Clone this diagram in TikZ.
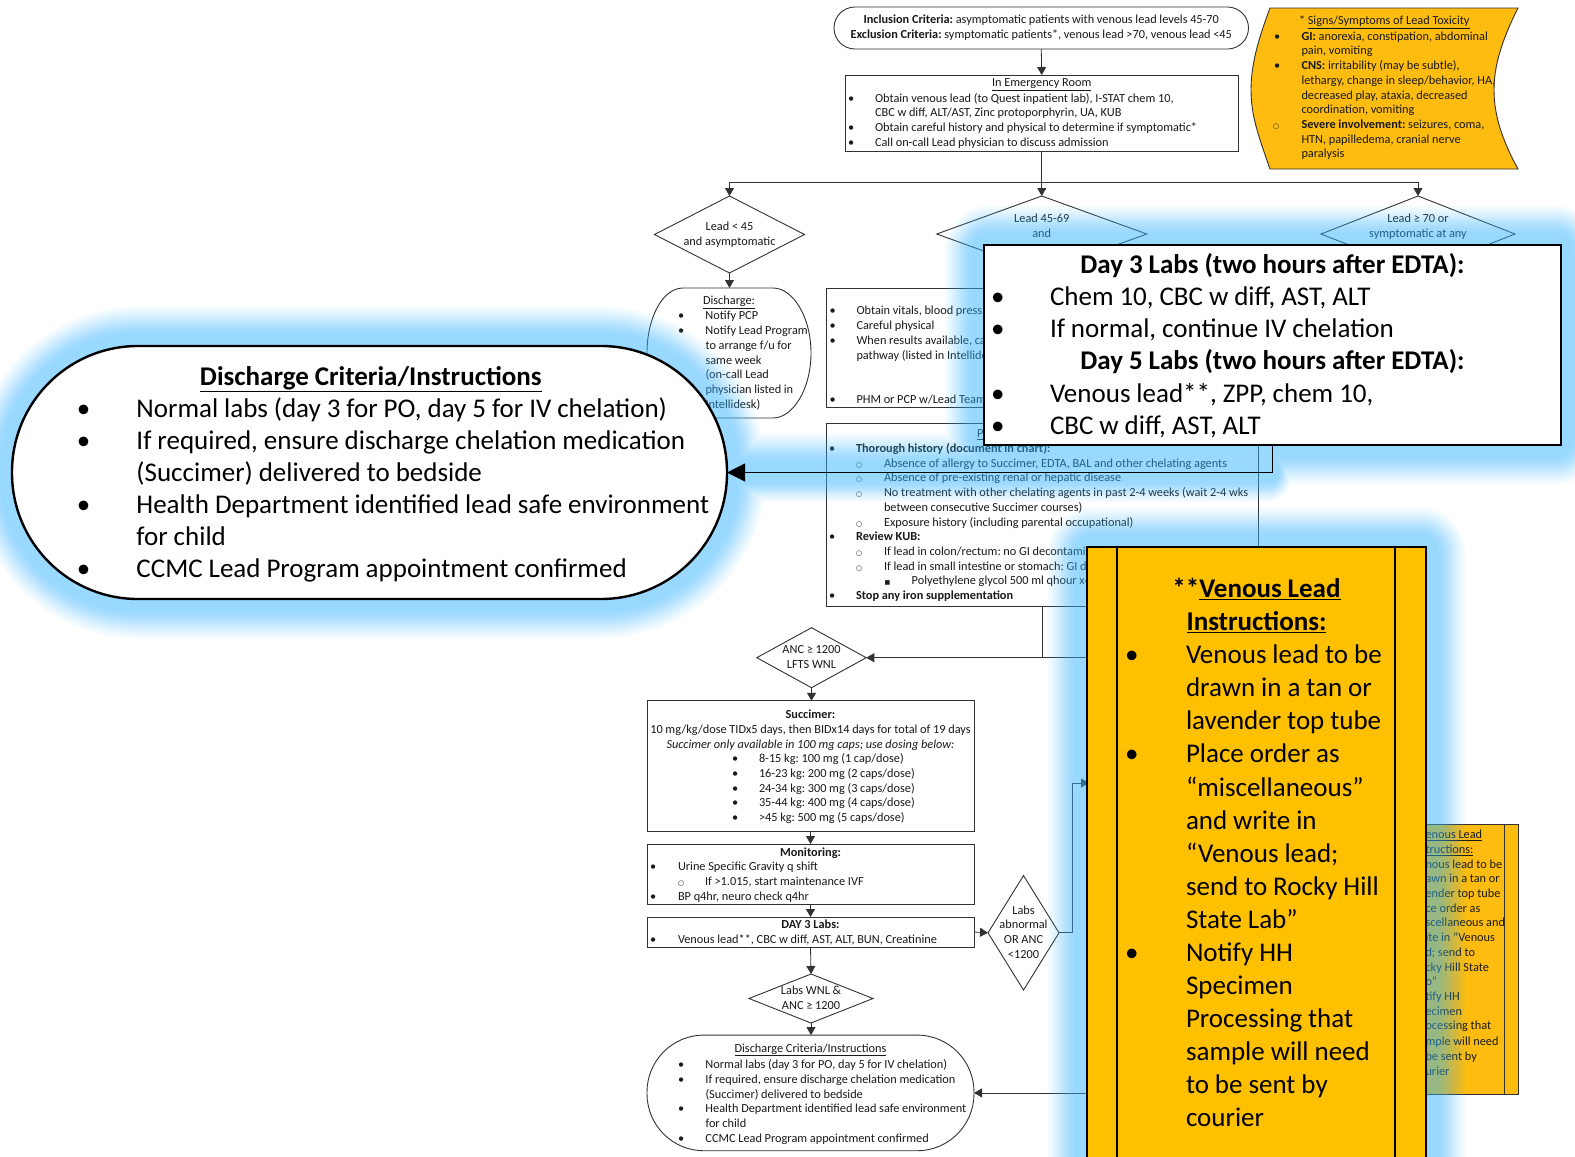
\documentclass[tikz,border=0pt]{standalone}
\usepackage{fontspec}
\setmainfont{Carlito}
\newfontfamily\dvfont{DejaVu Sans}
\usetikzlibrary{arrows.meta,shapes.geometric,calc}
\definecolor{orng}{RGB}{255,192,0}
\definecolor{orngb}{RGB}{253,188,15}
\definecolor{glowc}{rgb}{.22,.72,1}
\definecolor{linec}{RGB}{50,50,50}
\newdimen\stshift
\newcommand\ws{\spaceskip=.22em\xspaceskip=.22em\relax}
\newcommand\mstrut{\rule[\dimexpr -.3\baselineskip+\stshift\relax]{0pt}{\baselineskip}}
\newcommand\rowb[3]{\mstrut\makebox[0pt][l]{\hspace*{#1pt}\textbullet}\hspace*{#2pt}\mbox{\ws #3}}
\newcommand\rowc[3]{\mstrut\makebox[0pt][l]{\hspace*{#1pt}{\dvfont\fontsize{7}{7}\selectfont ○}}\hspace*{#2pt}\mbox{\ws #3}}
\newcommand\rowq[3]{\mstrut\makebox[0pt][l]{\hspace*{#1pt}{\dvfont\fontsize{6}{6}\selectfont ■}}\hspace*{#2pt}\mbox{\ws #3}}
\newcommand\rowp[2]{\mstrut\hspace*{#1pt}\mbox{\ws #2}}
\newcommand\rowm[1]{\mstrut\makebox[\hsize][c]{\ws #1}}
\newcommand\dtxt[1]{\makebox[0pt]{\raisebox{-7pt}{\smash{\ws\begin{tabular}[c]{@{}c@{}}#1\end{tabular}}}}}
\tikzset{
  smallfont/.style={font=\fontsize{12.3}{14.7}\selectfont,execute at begin node={\stshift=1.3pt\relax}},
  upshift/.style={execute at begin node={\stshift=.3pt\relax}},
  flowbox/.style={draw=linec,line width=.9pt,fill=white,inner sep=0pt,outer sep=0pt,align=left,smallfont,text=black!90},
  flowdia/.style={shape=diamond,draw=linec,line width=.9pt,fill=white,inner sep=0pt,outer sep=0pt,smallfont,text=black!90},
  flow/.style={draw=linec,line width=.8pt,-{Triangle[length=8pt,width=9pt]}},
  flowplain/.style={draw=linec,line width=.8pt},
  bigbox/.style={draw=black,line width=2.4pt,fill=white,inner sep=0pt,outer sep=0pt,align=left,font=\fontsize{27}{32.1}\selectfont,execute at begin node={\stshift=2.5pt\relax}},
  bigflow/.style={draw=black,line width=.9pt,-{Triangle[length=18pt,width=18pt]}},
  glowlayer/.style={fill=glowc,fill opacity=.056}
}
\begin{document}
\begin{tikzpicture}[x=1pt,y=-1pt]
\clip (0,0) rectangle (1575,1157);
\fill[white] (0,0) rectangle (1575,1157);

% ---- base diagram ----
\node[flowbox,upshift,rounded corners=21pt,text width=414.5pt,minimum height=42pt] (incl) at (1041.25,28)
 {\rowm{\textbf{Inclusion Criteria:} asymptomatic patients with venous lead levels 45-70}\\
  \rowm{\textbf{Exclusion Criteria:} symptomatic patients*, venous lead >70, venous lead <45}};
\node[flowbox,upshift,text width=392.5pt,minimum height=76pt] (er) at (1041.75,113)
 {\rowm{\underline{In Emergency Room}}\\
  \rowb{2.5}{29.5}{Obtain venous lead (to Quest inpatient lab), I-STAT chem 10,}\\
  \rowp{29.5}{CBC w diff, ALT/AST, Zinc protoporphyrin, UA, KUB}\\
  \rowb{2.5}{29.5}{Obtain careful history and physical to determine if symptomatic*}\\
  \rowb{2.5}{29.5}{Call on-call Lead physician to discuss admission}};

% signs wave shape
\draw[draw=linec,line width=.9pt,fill=orngb] (1270,8) -- (1518,8) .. controls (1502,40) and (1494,65) .. (1494,90)
  .. controls (1494,115) and (1502,140) .. (1518,169) -- (1270,169)
  .. controls (1258,135) and (1251,115) .. (1251,90) .. controls (1251,65) and (1258,40) .. (1270,8) -- cycle;
\node[inner sep=0pt,align=left,smallfont,upshift,text width=235pt,text=black!90] (signs) at (1387.5,88)
 {\rowp{29}{* \underline{Signs/Symptoms of Lead Toxicity}}\\
  \rowb{4}{31.5}{\textbf{GI:} anorexia, constipation, abdominal}\\
  \rowp{31.5}{pain, vomiting}\\
  \rowb{4}{31.5}{\textbf{CNS:} irritability (may be subtle),}\\
  \rowp{31.5}{lethargy, change in sleep/behavior, HA,}\\
  \rowp{31.5}{decreased play, ataxia, decreased}\\
  \rowp{31.5}{coordination, vomiting}\\
  \rowc{3}{31.5}{\textbf{Severe involvement:} seizures, coma,}\\
  \rowp{31.5}{HTN, papilledema, cranial nerve}\\
  \rowp{31.5}{paralysis}};

\node[flowdia,minimum width=150pt,minimum height=77pt] (dleft) at (729.5,234.5) {\dtxt{Lead < 45\\and asymptomatic}};
\node[flowdia,minimum width=210pt,minimum height=76pt] (dmid) at (1041.75,234) {\dtxt{Lead 45-69\\and\\~}};
\node[flowdia,minimum width=194pt,minimum height=76pt] (dright) at (1418,234) {\dtxt{Lead ≥ 70 or\\symptomatic at any\\~}};

\coordinate (branch) at (1041.75,182);
\draw[flow] (incl.south) -- (er.north);
\draw[flow] (er.south) -- (dmid.north);
\draw[flow] (branch) -| (dleft.north);
\draw[flow] (branch) -| (dright.north);

% small discharge shape
\draw[draw=linec,line width=.9pt,fill=white] (683,288) -- (773,288) .. controls (793,288) and (811,317) .. (811,353)
  .. controls (811,389) and (793,418) .. (773,418) -- (683,418) .. controls (663,418) and (647,389) .. (647,353)
  .. controls (647,317) and (663,288) .. (683,288) -- cycle;
\node[inner sep=0pt,align=left,smallfont,upshift,text width=164pt,text=black!90] (dsmall) at (729,353)
 {\rowm{\underline{Discharge:}}\\
  \rowb{31}{58.5}{Notify PCP}\\
  \rowb{31}{58.5}{Notify Lead Program}\\
  \rowp{58.5}{to arrange f/u for}\\
  \rowp{58.5}{same week}\\
  \rowp{58.5}{(on-call Lead}\\
  \rowp{58.5}{physician listed in}\\
  \rowp{58.5}{Intellidesk)}};
\draw[flow] (dleft.south) -- (729.5,288);

\node[flowbox,text width=431.5pt,minimum height=119pt] (vitals) at (1042.25,347.5)
 {\mstrut\\
  \rowb{3}{30}{Obtain vitals, blood press}\\
  \rowb{3}{30}{Careful physical}\\
  \rowb{3}{30}{When results available, ca}\\
  \rowp{30}{pathway (listed in Intellide}\\
  \mstrut\\
  \mstrut\\
  \rowb{3}{30}{PHM or PCP w/Lead Team}};

\node[flowbox,text width=432pt,minimum height=183pt] (hist) at (1042,514.5)
 {\rowp{151}{\underline{P}}\\
  \rowb{3}{30}{\textbf{Thorough history (document in chart):}}\\
  \rowc{30}{58}{Absence of allergy to Succimer, EDTA, BAL and other chelating agents}\\
  \rowc{30}{58}{Absence of pre-existing renal or hepatic disease}\\
  \rowc{30}{58}{No treatment with other chelating agents in past 2-4 weeks (wait 2-4 wks}\\
  \rowp{58}{between consecutive Succimer courses)}\\
  \rowc{30}{58}{Exposure history (including parental occupational)}\\
  \rowb{3}{30}{\textbf{Review KUB:}}\\
  \rowc{30}{58}{If lead in colon/rectum: no GI decontamin}\\
  \rowc{30}{58}{If lead in small intestine or stomach: GI d}\\
  \rowq{58.5}{85.7}{Polyethylene glycol 500 ml qhour x4}\\
  \rowb{3}{30}{\textbf{Stop any iron supplementation}}};

\node[flowdia,minimum width=109.5pt,minimum height=60pt] (anc) at (811.5,657.7) {\dtxt{ANC ≥ 1200\\LFTS WNL}};
\coordinate (ancfar) at (1100,657.7);
\draw[flowplain] (hist.south -| 1042,0) -- (1042,657.7);
\draw[flow] (ancfar) -- (anc.east);

\node[flowbox,text width=327pt,minimum height=130.5pt] (succ) at (810.5,766)
 {\rowm{\textbf{Succimer:}}\\
  \rowm{10 mg/kg/dose TIDx5 days, then BIDx14 days for total of 19 days}\\
  \rowm{\textit{Succimer only available in 100 mg caps; use dosing below:}}\\
  \rowb{85}{112}{8-15 kg: 100 mg (1 cap/dose)}\\
  \rowb{85}{112}{16-23 kg: 200 mg (2 caps/dose)}\\
  \rowb{85}{112}{24-34 kg: 300 mg (3 caps/dose)}\\
  \rowb{85}{112}{35-44 kg: 400 mg (4 caps/dose)}\\
  \rowb{85}{112}{>45 kg: 500 mg (5 caps/dose)}};
\node[flowbox,text width=327pt,minimum height=60pt] (moni) at (810.5,874)
 {\rowm{\textbf{Monitoring:}}\\
  \rowb{3}{31}{Urine Specific Gravity q shift}\\
  \rowc{31}{58}{If >1.015, start maintenance IVF}\\
  \rowb{3}{31}{BP q4hr, neuro check q4hr}};
\node[flowbox,text width=327pt,minimum height=30pt] (day3s) at (810.5,932)
 {\rowm{\textbf{DAY 3 Labs:}}\\
  \rowb{3}{31}{Venous lead**, CBC w diff, AST, ALT, BUN, Creatinine}};
\node[flowdia,minimum width=71pt,minimum height=114.5pt] (labs) at (1023.5,932.8) {\dtxt{Labs\\abnormal\\OR ANC\\<1200}};
\node[flowdia,minimum width=124pt,minimum height=49pt] (wnl) at (811,998.5) {\dtxt{Labs WNL \&\\ANC ≥ 1200}};
\node[flowbox,rounded corners=57pt,text width=327pt,minimum height=115.7pt] (dlarge) at (810.5,1092.9)
 {\rowm{\underline{Discharge Criteria/Instructions}}\\
  \rowb{31}{58.5}{Normal labs (day 3 for PO, day 5 for IV chelation)}\\
  \rowb{31}{58.5}{If required, ensure discharge chelation medication}\\
  \rowp{58.5}{(Succimer) delivered to bedside}\\
  \rowb{31}{58.5}{Health Department identified lead safe environment}\\
  \rowp{58.5}{for child}\\
  \rowb{31}{58.5}{CCMC Lead Program appointment confirmed}};
\draw[flow] (anc.south) -- (succ.north -| anc.south);
\draw[flow] (succ.south) -- (moni.north);
\draw[flow] (moni.south) -- (day3s.north);
\draw[flow] (day3s.south) -- (wnl.north);
\draw[flow] (wnl.south) -- (dlarge.north -| wnl.south);
\draw[flow] (day3s.east) -- (labs.west);
\coordinate (labsup) at (1089,783);
\draw[flow] (labs.east) -- (1072,932.8) |- (labsup);
\coordinate (dlfar) at (1100,1092.9);
\draw[flow] (dlfar) -- (dlarge.east);

% small venous box (mostly hidden)
\node[flowbox,fill=orngb,execute at begin node={\stshift=2.3pt\relax},text width=118pt,minimum height=270pt] (vsmall) at (1459,959)
 {\rowp{25.5}{\underline{enous Lead}}\\
  \rowp{25.5}{\underline{tructions:}}\\
  \rowp{25.5}{nous lead to be}\\
  \rowp{25.5}{awn in a tan or}\\
  \rowp{25.5}{ender top tube}\\
  \rowp{25.5}{ce order as}\\
  \rowp{25.5}{scellaneous and}\\
  \rowp{25.5}{ite in "Venous}\\
  \rowp{25.5}{d; send to}\\
  \rowp{25.5}{cky Hill State}\\
  \rowp{25.5}{o"}\\
  \rowp{25.5}{tify HH}\\
  \rowp{25.5}{ecimen}\\
  \rowp{25.5}{ocessing that}\\
  \rowp{25.5}{mple will need}\\
  \rowp{25.5}{be sent by}\\
  \rowp{25.5}{urier}\\
  \mstrut};
\draw[flowplain] (1504,0 |- vsmall.north) -- (1504,0 |- vsmall.south);

% ---- glow ----
\foreach \w in {39,36,33,30.5,28,26,24,22,20,18,16,13}{
  \pgfmathsetmacro{\ra}{126+\w}
  \pgfmathsetmacro{\rb}{\w+6}
  \pgfmathsetmacro{\rc}{.7*\w}
  \fill[glowlayer]
   [rounded corners=\ra pt] ({12-\w},{346-\w}) rectangle ({727+\w},{599+\w})
   [rounded corners=\rb pt] ({984-\w},{245-\w}) rectangle ({1561+\w},{445+\w})
   [rounded corners=\rb pt] ({1087-\w},{547-\w}) rectangle ({1426+\w},{1220+\w})
   [rounded corners=\rc pt] ({727-\w},{472.5-\w}) rectangle ({1272.5+.5*\w},{472.5+.75*\w});
}

% ---- enlarged call-outs ----
\node[bigbox,rounded corners=126pt,text width=715pt,minimum height=253pt] (lc) at (369.5,472.5)
 {\rowp{188}{\textbf{\underline{Discharge Criteria/Instructions}}}\\
  \rowb{65}{124.5}{Normal labs (day 3 for PO, day 5 for IV chelation)}\\
  \rowb{65}{124.5}{If required, ensure discharge chelation medication}\\
  \rowp{124.5}{(Succimer) delivered to bedside}\\
  \rowb{65}{124.5}{Health Department identified lead safe environment}\\
  \rowp{124.5}{for child}\\
  \rowb{65}{124.5}{CCMC Lead Program appointment confirmed}};
\node[bigbox,text width=577pt,minimum height=200pt] (dayb) at (1272.5,345)
 {\rowm{\textbf{Day 3 Labs (two hours after EDTA):}}\\
  \rowb{7}{66}{Chem 10, CBC w diff, AST, ALT}\\
  \rowb{7}{66}{If normal, continue IV chelation}\\
  \rowm{\textbf{Day 5 Labs (two hours after EDTA):}}\\
  \rowb{7}{66}{Venous lead**, ZPP, chem 10,}\\
  \rowb{7}{66}{CBC w diff, AST, ALT}};
\draw[bigflow] (dayb.south) |- (lc.east);
\node[bigbox,fill=orng,text width=339pt,minimum height=614pt,font=\fontsize{27}{33.05}\selectfont,execute at begin node={\stshift=1.5pt\relax}] (vbig) at (1256.5,854)
 {\rowm{\textbf{**\underline{Venous Lead}}}\\
  \rowm{\textbf{\underline{Instructions:}}}\\
  \rowb{38}{99}{Venous lead to be}\\
  \rowp{99}{drawn in a tan or}\\
  \rowp{99}{lavender top tube}\\
  \rowb{38}{99}{Place order as}\\
  \rowp{99}{“miscellaneous”}\\
  \rowp{99}{and write in}\\
  \rowp{99}{“Venous lead;}\\
  \rowp{99}{send to Rocky Hill}\\
  \rowp{99}{State Lab”}\\
  \rowb{38}{99}{Notify HH}\\
  \rowp{99}{Specimen}\\
  \rowp{99}{Processing that}\\
  \rowp{99}{sample will need}\\
  \rowp{99}{to be sent by}\\
  \rowp{99}{courier}};
\draw[draw=black,line width=2.4pt] (1117,0 |- vbig.north) -- (1117,0 |- vbig.south);
\draw[draw=black,line width=2.4pt] (1395,0 |- vbig.north) -- (1395,0 |- vbig.south);
\end{tikzpicture}
\end{document}
